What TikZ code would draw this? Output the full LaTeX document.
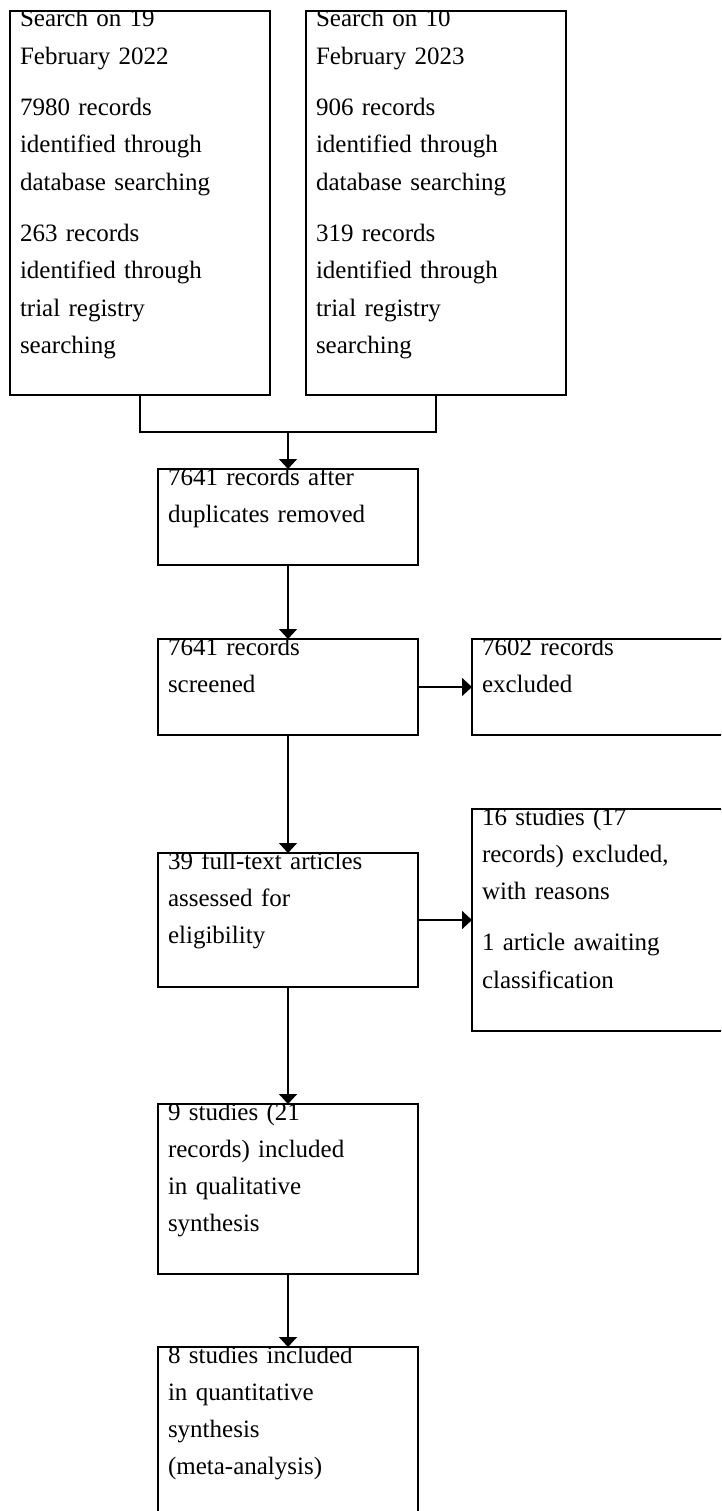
\documentclass[tikz,border=0pt]{standalone}
\usepackage{fontspec}
\setmainfont{Liberation Serif}
\usepackage{tikz}
\usetikzlibrary{arrows.meta}

\begin{document}
\begin{tikzpicture}[x=1pt, y=-1pt, line width=1.7pt,
	box/.style={shape=rectangle, draw, inner sep=0, outer sep=0, minimum width=260pt},
	txt/.style={anchor=base west, align=left, text width=240pt, inner sep=0, minimum width=0pt, minimum height=0pt, font=\fontsize{25pt}{37.3pt}\selectfont},
	boxtext/.style={path picture={\node[txt] at ([xshift=10pt, yshift=-16pt]path picture bounding box.north west){#1};}},
	arr/.style={-{Triangle[length=10pt, width=18pt]}}]
	\clip (0, 0) rectangle (721, 1511);
	% Boxes, texts and arrows:
	\node[box, minimum height=384pt, boxtext={Search on 19\\February 2022\\[14pt]7980 records\\identified through\\database searching\\[14pt]263 records\\identified through\\trial registry\\searching}](Search1) at (140, 203){};
	\node[box, minimum height=384pt, boxtext={Search on 10\\February 2023\\[14pt]906 records\\identified through\\database searching\\[14pt]319 records\\identified through\\trial registry\\searching}](Search2) at (436, 203){};
	\coordinate (Join) at (288, 432);
	\draw (Search1.south) |- (Join) -| (Search2.south);
	\node[box, minimum height=96pt, boxtext={7641 records after\\duplicates removed}](Dedup) at (288, 517){};
	\draw[arr] (Join) -- (Dedup.north);
	\node[box, minimum height=96pt, boxtext={7641 records\\screened}](Screen) at (288, 687){};
	\draw[arr] (Dedup.south) -- (Screen.north);
	\node[box, minimum height=96pt, boxtext={7602 records\\excluded}](Excl) at (602, 687){};
	\draw[arr] (Screen.east) -- (Excl.west);
	\node[box, minimum height=134pt, boxtext={39 full-text articles\\assessed for\\eligibility}](Full) at (288, 920){};
	\draw[arr] (Screen.south) -- (Full.north);
	\node[box, minimum height=222pt, boxtext={16 studies (17\\records) excluded,\\with reasons\\[14pt]1 article awaiting\\classification}](ExclFull) at (602, 920){};
	\draw[arr] (Full.east) -- (ExclFull.west);
	\node[box, minimum height=170pt, boxtext={9 studies (21\\records) included\\in qualitative\\synthesis}](Qual) at (288, 1189){};
	\draw[arr] (Full.south) -- (Qual.north);
	\node[box, minimum height=170pt, boxtext={8 studies included\\in quantitative\\synthesis\\(meta-analysis)}](Quant) at (288, 1432){};
	\draw[arr] (Qual.south) -- (Quant.north);
\end{tikzpicture}
\end{document}
